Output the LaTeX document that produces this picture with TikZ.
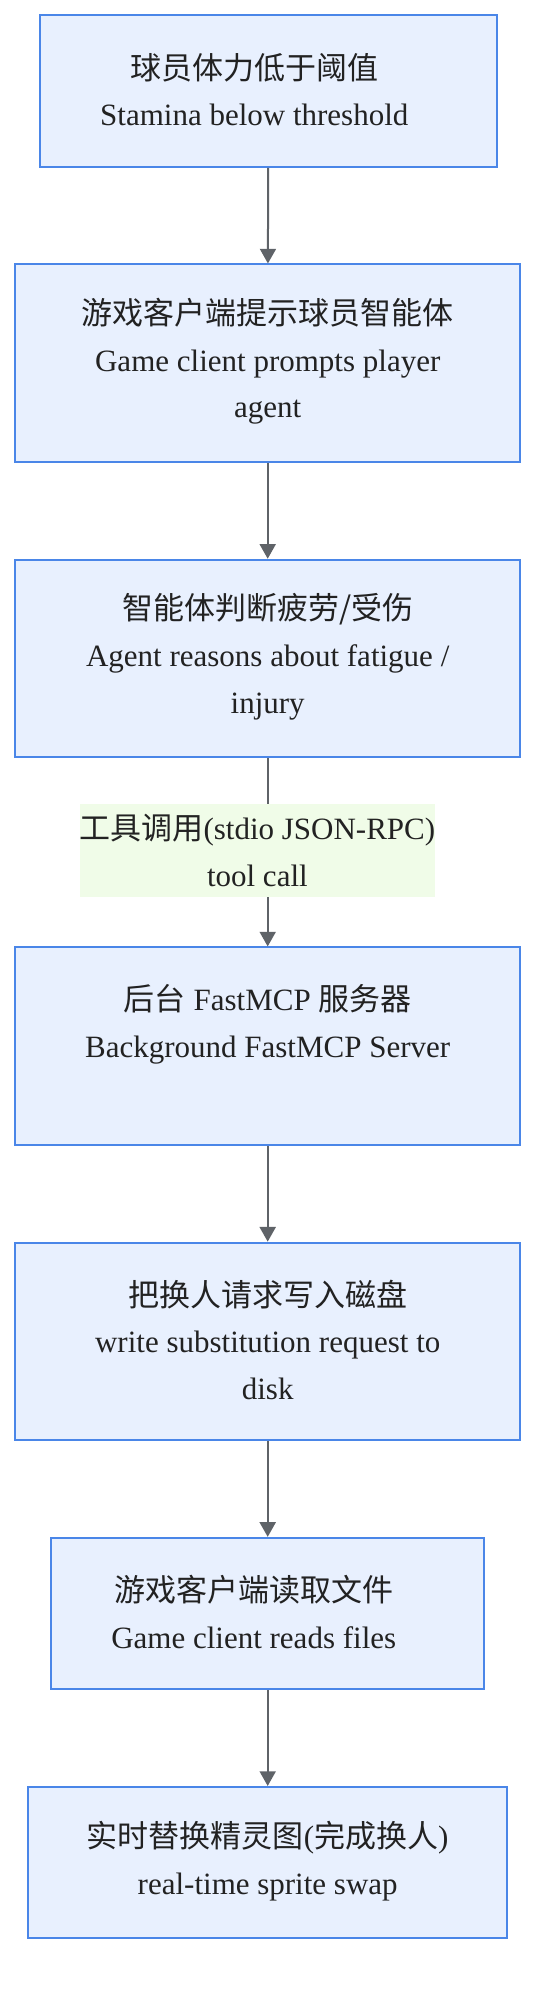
\documentclass[tikz,border=0pt]{standalone}
\usepackage{fontspec}
\setmainfont{Liberation Serif}
\newfontfamily\cjk{Noto Sans CJK SC}
\usetikzlibrary{arrows.meta}
\definecolor{boxfill}{RGB}{232,240,254}
\definecolor{boxline}{RGB}{74,134,232}
\definecolor{lblfill}{RGB}{240,252,232}
\definecolor{arrowcol}{RGB}{95,99,104}
\definecolor{txtcol}{RGB}{34,34,34}
\newcommand{\zh}[1]{{\cjk #1}}
\begin{document}
\begin{tikzpicture}[x=0.75pt,y=-0.75pt,
  every node/.style={text=txtcol, font=\fontsize{23.25pt}{35pt}\selectfont, align=center, inner sep=0pt},
  flowbox/.style={draw=boxline, fill=boxfill, line width=1.5pt, minimum width=#1*0.75pt},
  tall/.style={minimum height=197.7*0.75pt},
  short/.style={minimum height=151.5*0.75pt},
  boxtext/.style={},
  flowarrow/.style={draw=arrowcol, line width=1.5pt, -{Triangle[width=12pt,length=11pt]}},
  edgelabel/.style={fill=lblfill, minimum width=355.6*0.75pt, minimum height=92.6*0.75pt}
]
\useasboundingbox (0,0) rectangle (552,2012);
\node[flowbox=457, short] (b1) at (268.3,91.2) {};
\node[boxtext] (t1) at (254.3,89.5) {\zh{球员体力低于阈值}\\Stamina below threshold};
\node[flowbox=504.5, tall] (b2) at (267.7,363.3) {};
\node[boxtext] (t2) at (267.7,361.5) {\zh{游戏客户端提示球员智能体}\\Game client prompts player\\agent};
\node[flowbox=504.5, tall] (b3) at (267.7,658.6) {};
\node[boxtext] (t3) at (267.7,656.8) {\zh{智能体判断疲劳/受伤}\\Agent reasons about fatigue /\\injury};
\node[flowbox=504.5, tall] (b4) at (267.7,1046.3) {};
\node[boxtext] (t4) at (267.7,1044.5) {\zh{后台} FastMCP \zh{服务器}\\Background FastMCP Server\\\mbox{}};
\node[flowbox=504.5, tall] (b5) at (267.7,1341.5) {};
\node[boxtext] (t5) at (267.7,1339.7) {\zh{把换人请求写入磁盘}\\write substitution request to\\disk};
\node[flowbox=432.7, short] (b6) at (267.7,1613.6) {};
\node[boxtext] (t6) at (253.7,1611.9) {\zh{游戏客户端读取文件}\\Game client reads files};
\node[flowbox=478.9, short] (b7) at (267.7,1862.7) {};
\node[boxtext] (t7) at (267.7,1861) {\zh{实时替换精灵图}(\zh{完成换人})\\real-time sprite swap};
\draw[flowarrow] (b1) -- (b2);
\draw[flowarrow] (b2) -- (b3);
\draw[flowarrow] (b3) -- (b4);
\node[edgelabel] (lbl) at (257.4,850.5) {\zh{工具调用}(stdio JSON-RPC)\\tool call};
\draw[flowarrow] (b4) -- (b5);
\draw[flowarrow] (b5) -- (b6);
\draw[flowarrow] (b6) -- (b7);
\end{tikzpicture}
\end{document}
